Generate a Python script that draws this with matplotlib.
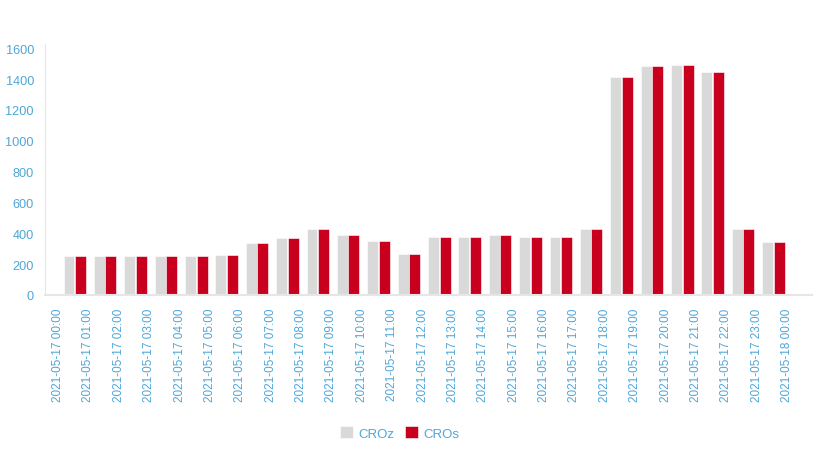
import numpy as np
import matplotlib
matplotlib.use("Agg")
import matplotlib.pyplot as plt

# --- data ---
labels = ["2021-05-17 %02d:00" % h for h in range(24)] + ["2021-05-18 00:00"]
croz = [256, 256, 256, 256, 256, 262, 340, 372, 425, 386, 353, 269,
        379, 379, 392, 373, 373, 431, 1417, 1488, 1494, 1449, 425, 346]
cros = [256, 256, 256, 256, 256, 262, 340, 372, 425, 386, 353, 269,
        379, 379, 392, 373, 373, 431, 1417, 1488, 1494, 1449, 425, 346]

TXT = "#4ea6d8"
GRAY = "#d9d9d9"
RED = "#c8001e"

plt.rcParams["font.family"] = ["Liberation Sans", "DejaVu Sans"]

fig = plt.figure(figsize=(8.21, 4.52), dpi=100)
ax = fig.add_axes([45 / 821, 1 - 296 / 452, (812 - 45) / 821, (296 - 45) / 452])

x = np.arange(len(croz))
w = 0.36
ax.bar(x + 0.36, croz, width=w, color=GRAY, edgecolor="white", linewidth=0.4, label="CROz", zorder=2)
ax.bar(x + 0.74, cros, width=w, color=RED, edgecolor="white", linewidth=0.4, label="CROs", zorder=2)

ax.set_xlim(-0.43, 24.82)
ax.set_ylim(0, 1628)
ax.set_yticks(range(0, 1601, 200))
ax.set_xticks(range(len(labels)))
ax.set_xticklabels(labels, rotation=90, va="top", ha="center")

ax.tick_params(axis="both", length=0, colors=TXT)
ax.tick_params(axis="y", pad=8, labelsize=9.2)
ax.tick_params(axis="x", pad=9, labelsize=8.5)
for t in ax.get_yticklabels():
    t.set_fontweight("medium")

for s in ["top", "right"]:
    ax.spines[s].set_visible(False)
ax.spines["left"].set_color("#e6e6e6")
ax.spines["bottom"].set_color("#e6e6e6")
ax.spines["bottom"].set_linewidth(1.5)

leg = fig.legend(loc="center", bbox_to_anchor=(400 / 821, 1 - 434 / 452), ncol=2,
                 frameon=False, fontsize=9.5, handlelength=0.95, handleheight=0.95,
                 handletextpad=0.45, columnspacing=0.8)
for t in leg.get_texts():
    t.set_color(TXT)

fig.savefig("out.png", dpi=100)
